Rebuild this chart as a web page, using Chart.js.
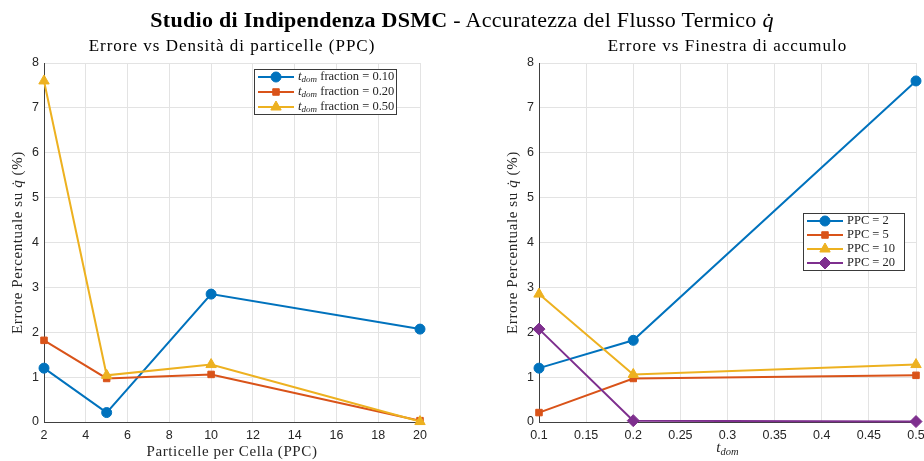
<!DOCTYPE html>
<html>
<head>
<meta charset="utf-8">
<script src="https://cdn.jsdelivr.net/npm/chart.js@4.4.1/dist/chart.umd.min.js"></script>
<style>
  html, body { margin: 0; padding: 0; background: #ffffff; }
  #wrap { position: relative; width: 924px; height: 461px; overflow: hidden; background: #fff; }
  #title { position: absolute; left: 0; top: 7px; width: 924px; text-align: center;
           font-family: "Liberation Serif", "DejaVu Serif", serif; font-size: 22px; letter-spacing: 0.3px; color: #000; line-height: 26px; }
  .pane { position: absolute; top: 0; width: 462px; height: 461px; }
  #paneL { left: 0; }
  #paneR { left: 462px; }
</style>
</head>
<body>
<div id="wrap">
  <div class="pane" id="paneL"><canvas id="cL" width="462" height="461"></canvas></div>
  <div class="pane" id="paneR"><canvas id="cR" width="462" height="461"></canvas></div>
  <div id="title"><b>Studio di Indipendenza DSMC</b> - Accuratezza del Flusso Termico <i>q&#775;</i></div>
</div>
<script>
// ---------------- DATA ----------------
const ppcValues = [2, 5, 10, 20];                 // particles per cell
const tdomFractions = [0.10, 0.20, 0.50];         // t_dom fractions
// error (%) vs PPC, one array per t_dom fraction
const errTdom010 = [1.20, 0.21, 2.85, 2.07];
const errTdom020 = [1.82, 0.97, 1.06, 0.03];
const errTdom050 = [7.60, 1.04, 1.28, 0.01];
const leftXTicks = [2, 4, 6, 8, 10, 12, 14, 16, 18, 20];
const leftXTickLabels = ['2', '4', '6', '8', '10', '12', '14', '16', '18', '20'];
const rightXTicks = [0.1, 0.15, 0.2, 0.25, 0.3, 0.35, 0.4, 0.45, 0.5];
const rightXTickLabels = ['0.1', '0.15', '0.2', '0.25', '0.3', '0.35', '0.4', '0.45', '0.5'];
const yTicks = [0, 1, 2, 3, 4, 5, 6, 7, 8];
const yTickLabels = ['0', '1', '2', '3', '4', '5', '6', '7', '8'];
const leftLegendLabels = ['0.10', '0.20', '0.50'];
const rightLegendLabels = ['PPC = 2', 'PPC = 5', 'PPC = 10', 'PPC = 20'];

// ---------------- STYLE ----------------
const colors = ['#0072BD', '#D95319', '#EDB120', '#7E2F8E'];
const markers = ['circle', 'rect', 'triangle', 'rectRot'];
const markerR = [5, 4.6, 6, 6];
const SERIF = '"Liberation Serif", "DejaVu Serif", serif';
const SANS = '"Liberation Sans", Arial, Helvetica, sans-serif';
const TXT = '#262626';

const errByTdom = [errTdom010, errTdom020, errTdom050];

function ds(label, pts, i) {
  return {
    label, data: pts,
    borderColor: colors[i], backgroundColor: colors[i],
    pointBackgroundColor: colors[i], pointBorderColor: colors[i],
    pointStyle: markers[i], pointRadius: markerR[i], pointBorderWidth: 1,
    borderWidth: 2, tension: 0, clip: false, order: 10 - i
  };
}

// left: error vs PPC for each t_dom fraction
const leftSets = errByTdom.map((arr, i) =>
  ds('tdom ' + leftLegendLabels[i], ppcValues.map((p, k) => ({ x: p, y: arr[k] })), i));
// right: error vs t_dom for each PPC (same measurements, transposed)
const rightSets = ppcValues.map((p, k) =>
  ds(rightLegendLabels[k], tdomFractions.map((t, i) => ({ x: t, y: errByTdom[i][k] })), k));

function drawRich(ctx, segs, x, y, align) {
  let w = 0;
  segs.forEach(s => { ctx.font = s.font; ctx.letterSpacing = s.ls || '0px'; s.w = ctx.measureText(s.text).width; w += s.w; });
  let sx = align === 'center' ? x - w / 2 : (align === 'right' ? x - w : x);
  ctx.textAlign = 'left';
  ctx.textBaseline = 'middle';
  segs.forEach(s => {
    ctx.font = s.font; ctx.letterSpacing = s.ls || '0px';
    ctx.fillStyle = s.color || TXT; ctx.fillText(s.text, sx, y + (s.dy || 0)); sx += s.w;
  });
  ctx.letterSpacing = '0px';
}

function yLabelSegs() {
  return [
    { text: 'Errore Percentuale su ', font: '15px ' + SERIF, ls: '0.6px' },
    { text: 'q\u0307', font: 'italic 15px ' + SERIF, ls: '0.6px' },
    { text: ' (%)', font: '15px ' + SERIF, ls: '0.6px' }
  ];
}

function decoPlugin(o) {
  return {
    id: 'deco',
    afterDraw(chart) {
      const ctx = chart.ctx, a = chart.chartArea;
      const cx = (a.left + a.right) / 2, cy = (a.top + a.bottom) / 2;
      ctx.save();
      // subplot title
      drawRich(ctx, [{ text: o.title, font: '17px ' + SERIF, color: '#000', ls: '1px' }], cx, 47, 'center');
      // x label
      drawRich(ctx, o.xlabel, cx, o.xlabelY, 'center');
      // y label (rotated)
      ctx.save();
      ctx.translate(o.ylabelX, cy);
      ctx.rotate(-Math.PI / 2);
      drawRich(ctx, yLabelSegs(), 0, 0, 'center');
      ctx.restore();
      // legend
      const L = o.legend;
      ctx.fillStyle = '#ffffff';
      ctx.fillRect(L.x, L.y, L.w, L.h);
      ctx.strokeStyle = '#3a3a3a';
      ctx.lineWidth = 1;
      ctx.strokeRect(L.x + 0.5, L.y + 0.5, L.w - 1, L.h - 1);
      chart.data.datasets.forEach((d, i) => {
        const ey = L.y + L.first + i * L.step;
        ctx.strokeStyle = d.borderColor;
        ctx.lineWidth = 2;
        ctx.beginPath();
        ctx.moveTo(L.x + 4, ey); ctx.lineTo(L.x + 40, ey); ctx.stroke();
        ctx.fillStyle = d.backgroundColor;
        ctx.lineWidth = 1;
        Chart.helpers.drawPoint(ctx, { pointStyle: d.pointStyle, radius: d.pointRadius, rotation: 0, borderWidth: 1 }, L.x + 22, ey);
        drawRich(ctx, L.labels(i), L.x + 44, ey, 'left');
      });
      ctx.restore();
    }
  };
}

function makeChart(id, datasets, opt) {
  return new Chart(document.getElementById(id), {
    type: 'line',
    data: { datasets },
    options: {
      responsive: false, animation: false,
      layout: { padding: { top: 63, right: opt.padRight, left: 0, bottom: 0 } },
      plugins: { legend: { display: false }, title: { display: false }, tooltip: { enabled: false } },
      scales: {
        x: {
          type: 'linear', min: opt.xmin, max: opt.xmax,
          afterBuildTicks: s => { s.ticks = opt.xTicks.map(v => ({ value: v })); },
          afterFit: s => { s.height = 39; s.paddingLeft = 0; s.paddingRight = 0; },
          ticks: { callback: (v, i) => opt.xTickLabels[i], font: { family: SANS, size: 12.5 }, color: TXT, padding: 6, maxRotation: 0, autoSkip: false },
          grid: { color: '#e3e3e3', drawTicks: false, lineWidth: 1 },
          border: { color: '#404040', width: 1 }
        },
        y: {
          type: 'linear', min: 0, max: 8,
          afterBuildTicks: s => { s.ticks = yTicks.map(v => ({ value: v })); },
          afterFit: s => { s.width = opt.yWidth; s.paddingTop = 0; s.paddingBottom = 0; },
          ticks: { callback: (v, i) => yTickLabels[i], font: { family: SANS, size: 12.5 }, color: TXT, padding: 5, autoSkip: false },
          grid: { color: '#e3e3e3', drawTicks: false, lineWidth: 1 },
          border: { color: '#404040', width: 1 }
        }
      }
    },
    plugins: [decoPlugin(opt.deco)]
  });
}

makeChart('cL', leftSets, {
  xmin: 2, xmax: 20, xTicks: leftXTicks, xTickLabels: leftXTickLabels,
  yWidth: 44, padRight: 42,
  deco: {
    title: 'Errore vs Densit\u00e0 di particelle (PPC)',
    xlabel: [{ text: 'Particelle per Cella (PPC)', font: '15px ' + SERIF, ls: '0.6px' }],
    xlabelY: 452, ylabelX: 18,
    legend: {
      x: 254, y: 69, w: 143, h: 46, first: 8, step: 15,
      labels: i => [
        { text: 't', font: 'italic 13px ' + SERIF },
        { text: 'dom', font: 'italic 9px ' + SERIF, dy: 3 },
        { text: ' fraction = ' + leftLegendLabels[i], font: '12.5px ' + SERIF }
      ]
    }
  }
});

makeChart('cR', rightSets, {
  xmin: 0.1, xmax: 0.5, xTicks: rightXTicks, xTickLabels: rightXTickLabels,
  yWidth: 77, padRight: 8,
  deco: {
    title: 'Errore vs Finestra di accumulo',
    xlabel: [
      { text: 't', font: 'italic 15px ' + SERIF },
      { text: 'dom', font: 'italic 10.5px ' + SERIF, dy: 4 }
    ],
    xlabelY: 448, ylabelX: 51,
    legend: {
      x: 341, y: 213, w: 102, h: 58, first: 8, step: 14,
      labels: i => [{ text: rightLegendLabels[i], font: '12.5px ' + SERIF }]
    }
  }
});
</script>
</body>
</html>
